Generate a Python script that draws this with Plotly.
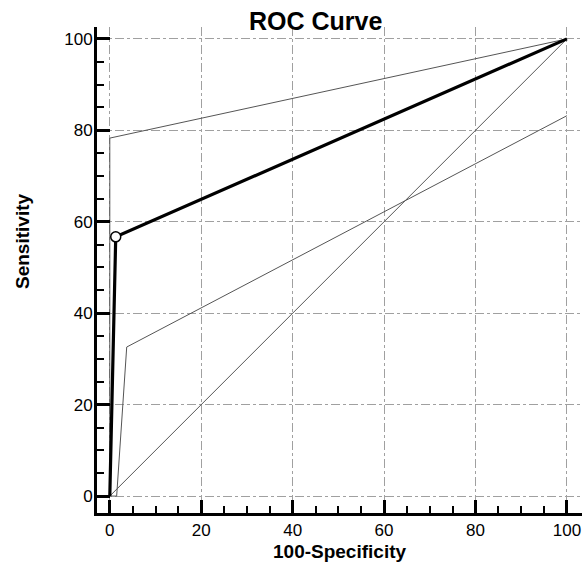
import plotly.graph_objects as go

roc_x = [0, 1.3, 100]
roc_y = [0, 56.7, 100]
upper_x = [0, 0, 100]
upper_y = [0, 78.3, 100]
lower_x = [0, 1.5, 3.7, 100]
lower_y = [0, 0, 32.6, 83.2]
diag_x = [0, 100]
diag_y = [0, 100]
cut_x = [1.3]
cut_y = [56.7]
ticks = [0, 20, 40, 60, 80, 100]

FONT = "Liberation Sans, Arial"

fig = go.Figure()
thin = dict(color="#555555", width=1)
fig.add_trace(go.Scatter(x=diag_x, y=diag_y, mode="lines", line=thin))
fig.add_trace(go.Scatter(x=upper_x, y=upper_y, mode="lines", line=thin))
fig.add_trace(go.Scatter(x=lower_x, y=lower_y, mode="lines", line=thin))
fig.add_trace(go.Scatter(x=roc_x, y=roc_y, mode="lines", line=dict(color="black", width=3.2)))
fig.add_trace(go.Scatter(x=cut_x, y=cut_y, mode="markers",
                         marker=dict(size=10, color="white", line=dict(color="black", width=1.5))))

axis_common = dict(
    showline=True, linecolor="black", linewidth=3,
    ticks="inside", ticklen=13, tickwidth=3, tickcolor="black",
    tickvals=ticks, ticktext=[str(t) for t in ticks],
    showgrid=True, gridcolor="#a0a0a0", gridwidth=1, griddash="dashdot",
    zeroline=False, automargin=False,
    tickfont=dict(family=FONT, size=17, color="black"),
    minor=dict(dtick=5, tick0=0, ticks="inside", ticklen=7, tickwidth=2, tickcolor="black", showgrid=False),
    mirror=False,
)

fig.update_layout(
    width=586, height=564,
    margin=dict(l=97, r=4, t=27, b=51),
    paper_bgcolor="white", plot_bgcolor="white",
    showlegend=False,
    xaxis=dict(range=[-2.8, 103.3], ticklabelstandoff=0, **axis_common),
    yaxis=dict(range=[-3.7, 102.6], ticklabelstandoff=-2, **axis_common),
    annotations=[
        dict(text="<b>ROC Curve</b>", xref="paper", yref="paper", x=0.4515, y=1.0123,
             xanchor="center", yanchor="middle", showarrow=False,
             font=dict(family=FONT, size=25, color="black")),
        dict(text="<b>100-Specificity</b>", xref="paper", yref="paper", x=0.501, y=-0.0802,
             xanchor="center", yanchor="middle", showarrow=False,
             font=dict(family=FONT, size=19, color="black")),
        dict(text="<b>Sensitivity</b>", xref="paper", yref="paper", x=-0.1526, y=0.5597,
             xanchor="center", yanchor="middle", showarrow=False, textangle=-90,
             font=dict(family=FONT, size=19, color="black")),
    ],
)

fig.write_html("out.html", config={"displayModeBar": False},
               post_script="document.body.style.margin='0px';document.body.style.overflow='hidden';")
